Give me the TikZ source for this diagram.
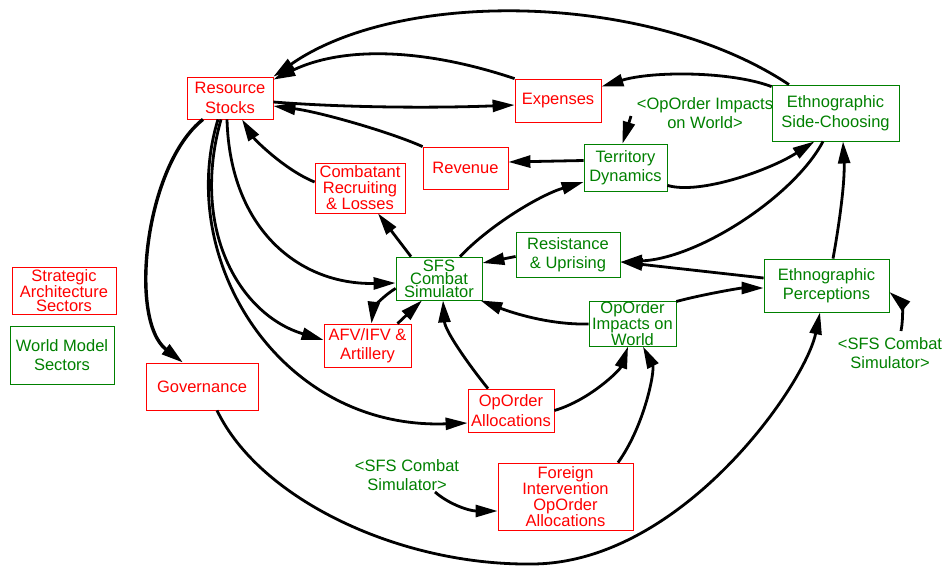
\documentclass[tikz,border=0pt]{standalone}
\usepackage{fontspec}
\setmainfont{Liberation Sans}
\usetikzlibrary{arrows.meta}
\definecolor{gvred}{RGB}{255,0,0}
\definecolor{gvgreen}{RGB}{0,128,0}
\newcommand{\fsz}[1]{\fontsize{16.5}{#1}\selectfont}
\begin{document}
\begin{tikzpicture}[x=1pt,y=-1pt,
  box/.style={draw, line width=0.8pt, inner sep=0pt, align=center, font=\fsz{19.5}},
  rbox/.style={box, draw=gvred, text=gvred},
  gbox/.style={box, draw=gvgreen, text=gvgreen},
  lab/.style={text=gvgreen, align=center, inner sep=0pt, font=\fsz{19.5}},
  edge/.style={line width=2.8pt, -{Triangle[length=22pt,width=12pt]}}]
\useasboundingbox (0,0) rectangle (948,566);

% nodes
\node[rbox, minimum width=86pt, minimum height=42pt] (rs) at (230,98) {Resource\\Stocks};
\node[rbox, minimum width=86pt, minimum height=43pt] (exp) at (558,100.5) {Expenses};
\node[rbox, minimum width=85pt, minimum height=42pt] (rev) at (465.5,168) {Revenue};
\node[rbox, minimum width=90pt, minimum height=50pt, font=\fsz{16}] (crl) at (360,188) {Combatant\\Recruiting\\\& Losses};
\node[gbox, minimum width=83pt, minimum height=47pt] (td) at (625.5,167.5) {Territory\\Dynamics};
\node[gbox, minimum width=127pt, minimum height=56pt] (esc) at (835.5,113) {Ethnographic\\Side-Choosing};
\node[gbox, minimum width=104pt, minimum height=45pt] (ru) at (568,254.5) {Resistance\\\& Uprising};
\node[gbox, minimum width=86pt, minimum height=43pt, font=\fsz{12}] (sfs) at (439,278.5) {SFS\\Combat\\Simulator};
\node[rbox, minimum width=87pt, minimum height=43pt] (afv) at (367.5,345.5) {AFV/IFV \&\\Artillery};
\node[rbox, minimum width=86pt, minimum height=43pt] (oa) at (511,410.5) {OpOrder\\Allocations};
\node[gbox, minimum width=87pt, minimum height=42pt, font=\fsz{12.7}] (oiw) at (632.5,324) {OpOrder\\Impacts on\\World};
\node[gbox, minimum width=125pt, minimum height=53pt] (ep) at (826.5,285.5) {Ethnographic\\Perceptions};
\node[rbox, minimum width=104pt, minimum height=47pt, font=\fsz{14}] (sas) at (64,290.5) {Strategic\\Architecture\\Sectors};
\node[gbox, minimum width=104pt, minimum height=58pt] (wms) at (62,355) {World Model\\Sectors};
\node[rbox, minimum width=112pt, minimum height=47pt] (gov) at (202,386.5) {Governance};
\node[rbox, minimum width=135pt, minimum height=67pt, font=\fsz{15.3}] (fi) at (565.5,496.5) {Foreign\\Intervention\\OpOrder\\Allocations};
\node[lab] (l1) at (705,113) {<OpOrder Impacts\\on World>};
\node[lab, font=\fsz{18.7}] (l2) at (890,353) {<SFS Combat\\Simulator>};
\node[lab] (l3) at (407,475) {<SFS Combat\\Simulator>};
\coordinate (l1s) at (631,116);
\coordinate (l2s) at (901,331);
\coordinate (l3s) at (435,492);

% edges
\draw[edge] ([xshift=-46.5pt]esc.north) .. controls (650,-8) and (400,-12) .. (rs.north east);
\draw[edge] (exp.north west) .. controls (420,47) and (341,47) .. ([yshift=-3pt]rs.north east);
\draw[edge] ([yshift=-4pt]rs.east) .. controls (350,108) and (440,108) .. ([yshift=-4.5pt]exp.west);
\draw[edge] (rev.north west) .. controls (390,132) and (320,112) .. ([yshift=-8pt]rs.east);
\draw[edge] ([yshift=-2pt]esc.north west) .. controls (730,71) and (652,71) .. ([yshift=-8pt]exp.north east);
\draw[edge] ([yshift=7pt]td.west) -- ([yshift=6pt]rev.east);
\draw[edge] ([yshift=6pt]td.south east) .. controls (700,195) and (770,170) .. ([xshift=-21pt]esc.south);
\draw[edge] ([xshift=-12.5pt]esc.south) .. controls (795,195) and (700,258) .. ([yshift=-7.5pt]ru.east);
\draw[edge] ([xshift=6.5pt]ep.north) .. controls (840,220) and (845,180) .. ([xshift=7.5pt]esc.south);
\draw[edge] ([yshift=7.5pt]ep.west) -- ([yshift=-7.5pt]ru.east);
\draw[edge] ([yshift=-2pt]ru.west) -- ([yshift=15.5pt]sfs.east);
\draw[edge] ([xshift=21pt]sfs.north) .. controls (490,225) and (540,195) .. ([yshift=-14.5pt]td.west);
\draw[edge] ([xshift=-28pt]sfs.north) -- ([xshift=18pt]crl.south);
\draw[edge] ([yshift=6pt]crl.west) .. controls (285,170) and (255,140) .. ([xshift=12pt]rs.south);
\draw[edge, line width=3.4pt] ([xshift=-27pt]rs.south) .. controls (145,165) and (128,320) .. ([xshift=-19pt]gov.north);
\draw[edge] ([xshift=-12pt]rs.south) .. controls (175,260) and (280,430) .. ([yshift=-12.5pt]oa.west);
\draw[edge] ([xshift=-9pt]rs.south) .. controls (190,230) and (240,315) .. ([yshift=5.5pt]afv.west);
\draw[edge] ([xshift=-3pt]rs.south) .. controls (230,230) and (300,285) .. ([yshift=-4.5pt]sfs.west);
\draw[edge] ([yshift=12pt]sfs.south west) .. controls (380,298) and (373,310) .. ([xshift=4pt]afv.north);
\draw[edge] ([xshift=30pt]afv.north) -- ([xshift=-17pt]sfs.south);
\draw[edge] ([xshift=-23pt]oa.north) .. controls (465,360) and (445,330) .. ([xshift=4pt]sfs.south);
\draw[edge] (oiw.west) .. controls (545,325) and (505,310) .. ([xshift=-2pt]sfs.south east);
\draw[edge] (oa.east) .. controls (590,400) and (620,370) .. ([xshift=-4.5pt]oiw.south);
\draw[edge] ([xshift=52.5pt]fi.north) .. controls (645,425) and (655,370) .. ([xshift=10.5pt]oiw.south);
\draw[edge] (oiw.north east) .. controls (700,295) and (740,288) .. ([yshift=-2.5pt]ep.west);
\draw[edge] ([xshift=15pt]gov.south) .. controls (260,500) and (400,565) .. (530,564) .. controls (680,565) and (805,385) .. ([xshift=-6.5pt]ep.south);
\draw[edge] (l3s) .. controls (450,505) and (470,511) .. ([yshift=-14.5pt]fi.west);
\draw[edge] (l2s) .. controls (904,316) and (901,302) .. ([yshift=-6.5pt]ep.east);
\draw[edge] (l1s) -- ([xshift=-3pt]td.north);
\end{tikzpicture}
\end{document}
